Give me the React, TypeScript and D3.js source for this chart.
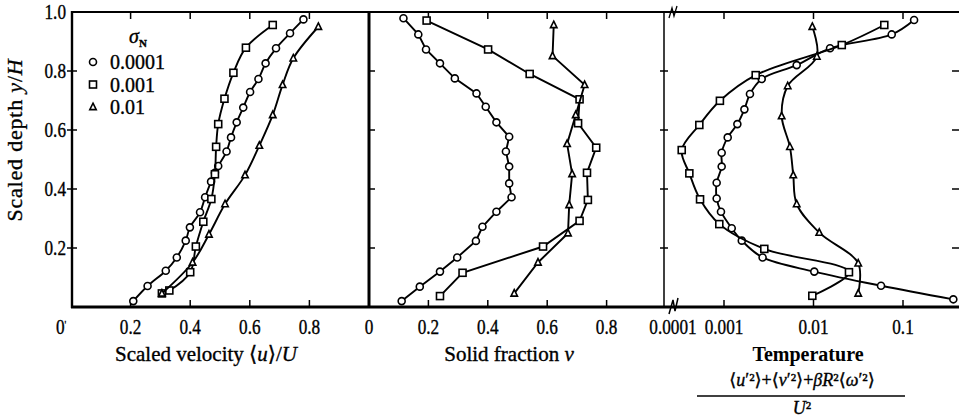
import React from "react";
import * as d3 from "d3";

type P = [number, number];

// ---------- data: [value, scaled depth y/H] ----------
const legendLabels = ["0.0001", "0.001", "0.01"];
const yTicks = [0.2, 0.4, 0.6, 0.8, 1.0];
const xTicksLin = [0.2, 0.4, 0.6, 0.8];
const xTicksLog = [0.001, 0.01, 0.1];
const xTickLabelsLog = ["0.001", "0.01", "0.1"];

const velCircle: P[] = [
  [0.209, 0.02], [0.257, 0.071], [0.318, 0.123], [0.355, 0.168], [0.385, 0.225],
  [0.399, 0.27], [0.433, 0.321], [0.45, 0.372], [0.47, 0.425], [0.483, 0.455],
  [0.494, 0.478], [0.522, 0.527], [0.537, 0.575], [0.556, 0.626], [0.578, 0.676],
  [0.601, 0.729], [0.629, 0.773], [0.653, 0.826], [0.688, 0.877], [0.735, 0.928],
  [0.78, 0.975],
];
const velSquare: P[] = [
  [0.305, 0.046], [0.33, 0.056], [0.4, 0.118], [0.419, 0.205], [0.444, 0.289],
  [0.471, 0.366], [0.483, 0.45], [0.487, 0.543], [0.494, 0.62], [0.515, 0.706],
  [0.545, 0.794], [0.587, 0.879], [0.677, 0.956],
];
const velTriangle: P[] = [
  [0.305, 0.046], [0.408, 0.151], [0.463, 0.246], [0.517, 0.349], [0.584, 0.447],
  [0.632, 0.547], [0.677, 0.651], [0.71, 0.753], [0.746, 0.843], [0.83, 0.95],
];

const solCircle: P[] = [
  [0.11, 0.02], [0.171, 0.069], [0.239, 0.12], [0.297, 0.168], [0.36, 0.224],
  [0.382, 0.272], [0.429, 0.323], [0.48, 0.372], [0.472, 0.419], [0.472, 0.476],
  [0.461, 0.527], [0.472, 0.577], [0.429, 0.626], [0.393, 0.679], [0.362, 0.724],
  [0.289, 0.775], [0.239, 0.826], [0.192, 0.873], [0.166, 0.924], [0.116, 0.979],
];
const solSquare: P[] = [
  [0.239, 0.037], [0.315, 0.116], [0.586, 0.205], [0.709, 0.292], [0.737, 0.363],
  [0.734, 0.455], [0.765, 0.54], [0.704, 0.623], [0.709, 0.704], [0.541, 0.79],
  [0.401, 0.873], [0.194, 0.971],
];
const solTriangle: P[] = [
  [0.489, 0.046], [0.569, 0.151], [0.67, 0.25], [0.674, 0.346], [0.684, 0.451],
  [0.667, 0.553], [0.696, 0.651], [0.726, 0.753], [0.618, 0.851], [0.622, 0.956],
];

const tmpCircle: P[] = [
  [0.365, 0.026], [0.0568, 0.072], [0.0102, 0.12], [0.0027, 0.168], [0.00158, 0.225],
  [0.00122, 0.267], [0.000925, 0.323], [0.000828, 0.368], [0.000828, 0.421],
  [0.000942, 0.476], [0.000942, 0.523], [0.0011, 0.575], [0.00141, 0.62],
  [0.00169, 0.67], [0.00195, 0.722], [0.00264, 0.773], [0.00649, 0.82],
  [0.0153, 0.877], [0.0748, 0.924], [0.133, 0.973],
];
const tmpSquare: P[] = [
  [0.0097, 0.038], [0.0249, 0.118], [0.00282, 0.197], [0.000886, 0.281],
  [0.00054, 0.365], [0.00041, 0.453], [0.000337, 0.532], [0.00053, 0.617],
  [0.0009, 0.699], [0.00226, 0.786], [0.0207, 0.888], [0.0618, 0.956],
];
const tmpTriangle: P[] = [
  [0.0316, 0.046], [0.0316, 0.148], [0.0116, 0.252], [0.00649, 0.349],
  [0.00594, 0.447], [0.00545, 0.543], [0.00441, 0.647], [0.00515, 0.749],
  [0.0109, 0.849], [0.0097, 0.95],
];

// ---------- layout ----------
const W = 959;
const H = 418;
const FONT = "'Liberation Serif', 'DejaVu Serif', serif";

const y = d3.scaleLinear().domain([0, 1]).range([307, 12]);
const x1 = d3.scaleLinear().domain([0, 1]).range([71, 369]);
const x2 = d3.scaleLinear().domain([0, 1]).range([369, 666]);
const x3 = d3.scaleLog().domain([0.001, 0.1]).range([724, 903]);

type Shape = "circle" | "square" | "triangle";

function Marker({ cx, cy, shape }: { cx: number; cy: number; shape: Shape }) {
  const common = { fill: "#fff", stroke: "#000", strokeWidth: 1.6 };
  if (shape === "circle") return <circle cx={cx} cy={cy} r={3.5} {...common} />;
  if (shape === "square")
    return <rect x={cx - 3.5} y={cy - 3.5} width={7} height={7} {...common} />;
  const s = 3.8;
  return (
    <path
      d={`M${cx},${cy - s} L${cx + s * 0.85},${cy + s * 0.7} L${cx - s * 0.85},${cy + s * 0.7} Z`}
      {...common}
    />
  );
}

function Series({
  data,
  xs,
  shape,
  curve,
}: {
  data: P[];
  xs: (v: number) => number;
  shape: Shape;
  curve: d3.CurveFactory;
}) {
  const line = d3
    .line<P>()
    .x((d) => xs(d[0]))
    .y((d) => y(d[1]))
    .curve(curve);
  return (
    <g>
      <path d={line(data) || ""} fill="none" stroke="#000" strokeWidth={1.9} />
      {data.map((d, i) => (
        <Marker key={i} cx={xs(d[0])} cy={y(d[1])} shape={shape} />
      ))}
    </g>
  );
}

const ink = { stroke: "#000", strokeWidth: 0.35 } as const;

function TickLabel({
  x,
  y: yy,
  anchor,
  children,
}: {
  x: number;
  y: number;
  anchor: "start" | "middle" | "end";
  children: React.ReactNode;
}) {
  return (
    <text
      transform={`translate(${x},${yy}) scale(0.86,1)`}
      textAnchor={anchor}
      fontFamily={FONT}
      fontSize={20}
      fill="#000"
      {...ink}
    >
      {children}
    </text>
  );
}

export default function App() {
  const smooth = d3.curveCatmullRom.alpha(0.5);
  const lin = d3.curveLinear;

  return (
    <svg
      width={W}
      height={H}
      viewBox={`0 0 ${W} ${H}`}
      style={{ position: "absolute", left: 0, top: 0, background: "#fff" }}
    >
      <rect x={0} y={0} width={W} height={H} fill="#fff" />

      {/* frame lines */}
      <line x1={71} x2={959} y1={12} y2={12} stroke="#000" strokeWidth={2.2} />
      <line x1={71} x2={959} y1={307} y2={307} stroke="#000" strokeWidth={3} />
      <line x1={72} x2={72} y1={11} y2={308} stroke="#000" strokeWidth={2.4} />
      <line x1={369} x2={369} y1={11} y2={308} stroke="#000" strokeWidth={3} />
      <line x1={664} x2={664} y1={11} y2={308} stroke="#000" strokeWidth={1.5} />

      {/* y ticks on panel boundaries */}
      {yTicks.slice(0, 4).map((t) => (
        <g key={t}>
          <line x1={67} x2={77} y1={y(t)} y2={y(t)} stroke="#000" strokeWidth={1.5} />
          <line x1={369} x2={375} y1={y(t)} y2={y(t)} stroke="#000" strokeWidth={1.5} />
          <line x1={660} x2={668} y1={y(t)} y2={y(t)} stroke="#000" strokeWidth={1.5} />
          <line x1={952} x2={959} y1={y(t)} y2={y(t)} stroke="#000" strokeWidth={1.5} />
        </g>
      ))}

      {/* x ticks (top and bottom) */}
      {xTicksLin.map((t) => (
        <g key={"a" + t}>
          <line x1={x1(t)} x2={x1(t)} y1={307} y2={300} stroke="#000" strokeWidth={1.5} />
          <line x1={x1(t)} x2={x1(t)} y1={12} y2={19} stroke="#000" strokeWidth={1.5} />
          <line x1={x2(t)} x2={x2(t)} y1={307} y2={300} stroke="#000" strokeWidth={1.5} />
          <line x1={x2(t)} x2={x2(t)} y1={12} y2={19} stroke="#000" strokeWidth={1.5} />
        </g>
      ))}
      {xTicksLog.map((t) => (
        <g key={"l" + t}>
          <line x1={x3(t)} x2={x3(t)} y1={307} y2={300} stroke="#000" strokeWidth={1.5} />
          <line x1={x3(t)} x2={x3(t)} y1={12} y2={19} stroke="#000" strokeWidth={1.5} />
        </g>
      ))}

      {/* axis breaks on log panel */}
      <path d="M669,314 L673,300 L675,311 L678,298" fill="none" stroke="#000" strokeWidth={1.5} />
      <path d="M669,18 L672,8 L674,16 L677,6" fill="none" stroke="#000" strokeWidth={1.3} />

      {/* y tick labels */}
      {yTicks.map((t) => (
        <TickLabel key={t} x={66} y={y(t) + 7} anchor="end">
          {t.toFixed(1)}
        </TickLabel>
      ))}

      {/* x tick labels */}
      <TickLabel x={56} y={334} anchor="start">
        0<tspan fontSize={11} dy={-6}>'</tspan>
      </TickLabel>
      {xTicksLin.map((t) => (
        <TickLabel key={"p1" + t} x={x1(t)} y={334} anchor="middle">
          {t.toFixed(1)}
        </TickLabel>
      ))}
      <TickLabel x={x2(0)} y={334} anchor="middle">0</TickLabel>
      {xTicksLin.map((t) => (
        <TickLabel key={"p2" + t} x={x2(t)} y={334} anchor="middle">
          {t.toFixed(1)}
        </TickLabel>
      ))}
      <TickLabel x={673} y={334} anchor="middle">0.0001</TickLabel>
      {xTicksLog.map((t, i) => (
        <TickLabel key={"p3" + t} x={x3(t)} y={334} anchor="middle">
          {xTickLabelsLog[i]}
        </TickLabel>
      ))}

      {/* axis titles */}
      <text
        transform="translate(22,140) rotate(-90)"
        textAnchor="middle"
        fontFamily={FONT}
        fontSize={22}
        letterSpacing={0.8}
        {...ink}
      >
        Scaled depth <tspan fontStyle="italic">y</tspan>/<tspan fontStyle="italic">H</tspan>
      </text>
      <text x={206} y={361} textAnchor="middle" fontFamily={FONT} fontSize={21} {...ink}>
        Scaled velocity ⟨<tspan fontStyle="italic">u</tspan>⟩/<tspan fontStyle="italic">U</tspan>
      </text>
      <text x={509} y={361} textAnchor="middle" fontFamily={FONT} fontSize={21} {...ink}>
        Solid fraction <tspan fontStyle="italic">ν</tspan>
      </text>
      <text x={808} y={361} textAnchor="middle" fontFamily={FONT} fontSize={20} fontWeight="bold">
        Temperature
      </text>
      <text x={802} y={386} textAnchor="middle" fontFamily={FONT} fontSize={18} {...ink}>
        ⟨<tspan fontStyle="italic">u</tspan>′²⟩+⟨<tspan fontStyle="italic">v</tspan>′²⟩+
        <tspan fontStyle="italic">βR</tspan>²⟨<tspan fontStyle="italic">ω</tspan>′²⟩
      </text>
      <line x1={697} x2={905} y1={396} y2={396} stroke="#000" strokeWidth={1.4} />
      <text x={802} y={414} textAnchor="middle" fontFamily={FONT} fontSize={18} {...ink}>
        <tspan fontStyle="italic">U</tspan>²
      </text>

      {/* legend */}
      <text x={129} y={43} fontFamily={FONT} fontSize={20} fontStyle="italic" {...ink}>
        σ<tspan fontSize={11} dy={4} fontStyle="normal" fontWeight="bold">N</tspan>
      </text>
      {(["circle", "square", "triangle"] as Shape[]).map((s, i) => (
        <g key={s}>
          <Marker cx={93} cy={62 + i * 22.5} shape={s} />
          <text x={110} y={62 + i * 22.5 + 7} fontFamily={FONT} fontSize={20} {...ink}>
            {legendLabels[i]}
          </text>
        </g>
      ))}

      {/* panel 1: velocity */}
      <Series data={velCircle} xs={x1} shape="circle" curve={smooth} />
      <Series data={velSquare} xs={x1} shape="square" curve={smooth} />
      <Series data={velTriangle} xs={x1} shape="triangle" curve={smooth} />

      {/* panel 2: solid fraction */}
      <Series data={solCircle} xs={x2} shape="circle" curve={lin} />
      <Series data={solSquare} xs={x2} shape="square" curve={lin} />
      <Series data={solTriangle} xs={x2} shape="triangle" curve={lin} />

      {/* panel 3: temperature */}
      <Series data={tmpCircle} xs={(v) => x3(v)} shape="circle" curve={smooth} />
      <Series data={tmpSquare} xs={(v) => x3(v)} shape="square" curve={smooth} />
      <Series data={tmpTriangle} xs={(v) => x3(v)} shape="triangle" curve={smooth} />
    </svg>
  );
}
